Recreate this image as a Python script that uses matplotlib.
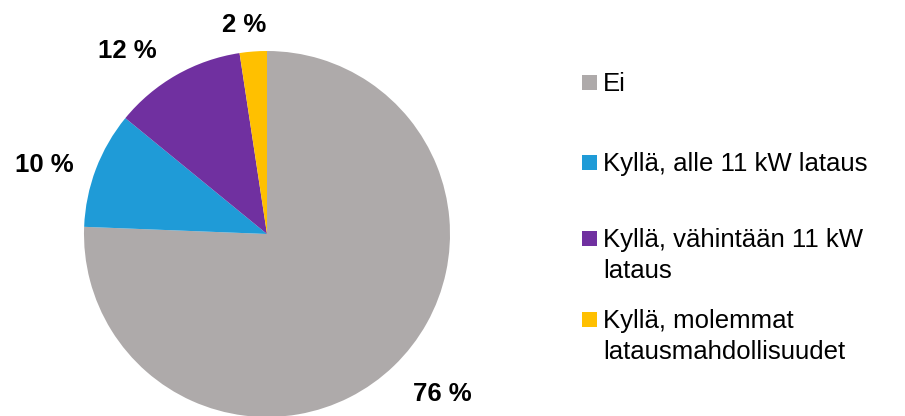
import matplotlib.pyplot as plt
import numpy as np
from matplotlib.patches import Rectangle

plt.rcParams['font.family'] = ['Liberation Sans', 'DejaVu Sans']

# data
categories = ['Ei', 'Kyllä, alle 11 kW lataus', 'Kyllä, vähintään 11 kW\nlataus',
              'Kyllä, molemmat\nlatausmahdollisuudet']
values = [75.7, 10.3, 11.7, 2.4]
pct_labels = ['76 %', '10 %', '12 %', '2 %']
colors = ['#AEAAAA', '#1F9BD7', '#7030A0', '#FFC000']

# layout (pixel units, axes cover the whole figure)
W, H = 905, 416
center = (267, 182)
radius = 183
label_dist = [1.29, 1.28, 1.266, 1.16]
label_nudge = [4.0, 3.0, 7.5, 2.0]      # degrees counter-clockwise from wedge middle
legend_x = 582
legend_box = 15
legend_baselines = [325, 245, 169, 88]   # first-line baseline of each entry (from bottom)
line_step = 31

fig = plt.figure(figsize=(W / 100, H / 100), dpi=100)
ax = fig.add_axes([0, 0, 1, 1])

wedges, _ = ax.pie(values, colors=colors, startangle=90, counterclock=False,
                   center=center, radius=radius, frame=False)
ax.set_xlim(0, W)
ax.set_ylim(0, H)
ax.set_aspect('equal')
ax.axis('off')

for w, txt, d, nudge in zip(wedges, pct_labels, label_dist, label_nudge):
    mid = np.deg2rad((w.theta1 + w.theta2) / 2 + nudge)
    ax.text(center[0] + d * radius * np.cos(mid), center[1] + d * radius * np.sin(mid) - 2,
            txt, ha='center', va='center', fontsize=18.5, fontweight='bold', color='#000000')

for cat, col, yb in zip(categories, colors, legend_baselines):
    ax.add_patch(Rectangle((legend_x, yb + 1), legend_box, legend_box,
                           facecolor=col, edgecolor='none'))
    lines = cat.split('\n')
    for i, line in enumerate(lines):
        ax.text(legend_x + legend_box + 6, yb - i * line_step, line, ha='left',
                va='baseline', fontsize=18.5, color='#000000')

fig.savefig('out.png', dpi=100)
